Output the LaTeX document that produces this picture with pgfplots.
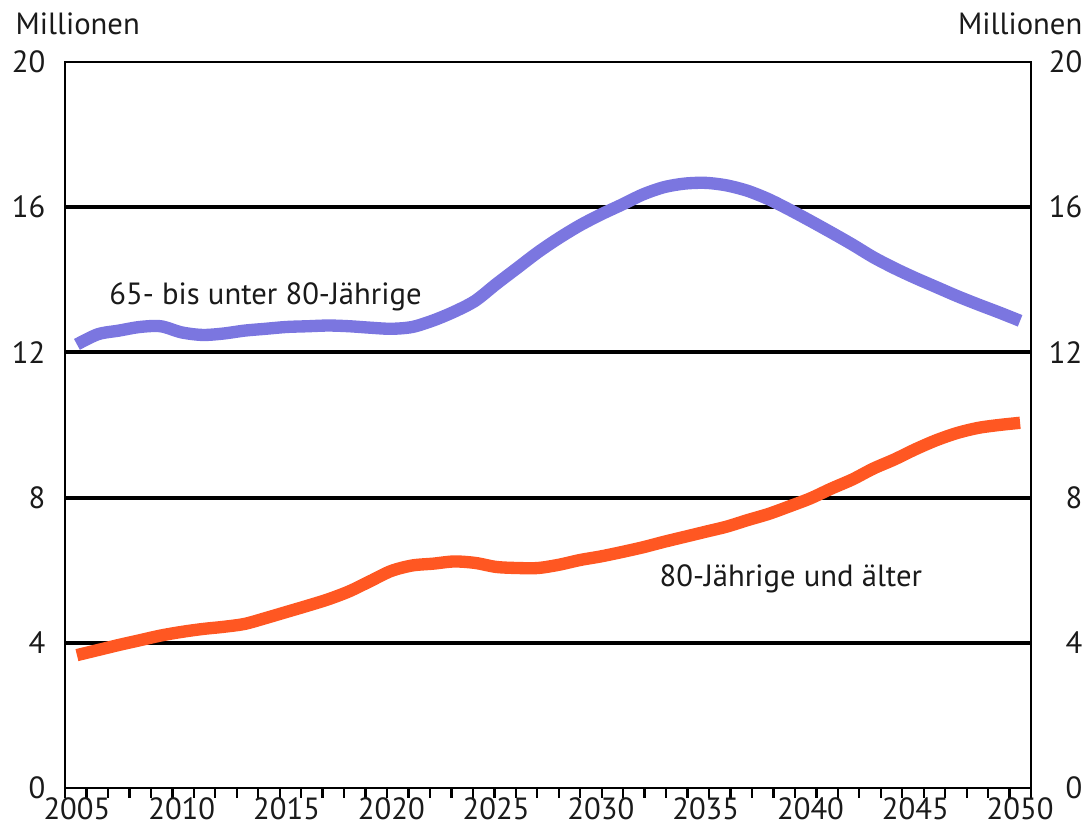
\documentclass[border=0pt]{standalone}
\usepackage{fontspec}
\setmainfont{PT Sans}
\usepackage{pgfplots}
\pgfplotsset{compat=1.18}
\definecolor{blueline}{RGB}{123,118,224}
\definecolor{orangeline}{RGB}{255,87,34}
\definecolor{txt}{RGB}{26,26,26}
\begin{document}
\fontsize{9.2}{11}\selectfont
\begin{tikzpicture}
\begin{axis}[name=ax, scale only axis, width=289.8pt, height=217.8pt,
  xmin=2004.43, xmax=2050.52, ymin=0, ymax=20,
  xtick={2005,2010,...,2050},
  minor xtick={2004.43,2005.45422,...,2050.53},
  ytick={0,4,...,20},
  major tick length=0pt, minor tick length=3pt, tick align=outside, tick pos=left,
  minor tick style={line width=0.7pt, black},
  axis line style={line width=0.7pt},
  extra y ticks={4,8,12,16}, extra y tick labels={}, extra y tick style={grid=major},
  grid style={black, line width=1.2pt},
  /pgf/number format/assume math mode=true,
  /pgf/number format/1000 sep={},
  xticklabel style={inner sep=0pt, yshift=-2.7pt, anchor=north, text=txt},
  yticklabel style={inner sep=0pt, anchor=east, xshift=-5.7pt, text=txt},
  clip=false]
\addplot[blueline, line width=3.7pt, line cap=butt, line join=round, smooth, tension=0.5] coordinates {
(2005,12.22)(2006,12.5)(2007,12.6)(2008,12.7)(2009,12.72)(2010,12.55)(2011,12.48)(2012,12.52)(2013,12.6)(2014,12.65)(2015,12.7)(2016,12.72)(2017,12.74)(2018,12.72)(2019,12.68)(2020,12.65)(2021,12.7)(2022,12.88)(2023,13.12)(2024,13.42)(2025,13.88)(2026,14.32)(2027,14.76)(2028,15.15)(2029,15.5)(2030,15.8)(2031,16.07)(2032,16.35)(2033,16.55)(2034,16.65)(2035,16.67)(2036,16.6)(2037,16.45)(2038,16.22)(2039,15.93)(2040,15.62)(2041,15.3)(2042,14.97)(2043,14.62)(2044,14.32)(2045,14.05)(2046,13.8)(2047,13.55)(2048,13.32)(2049,13.1)(2050,12.87)};
\addplot[orangeline, line width=3.7pt, line cap=butt, line join=round, smooth, tension=0.5] coordinates {
(2005,3.66)(2006,3.8)(2007,3.94)(2008,4.07)(2009,4.2)(2010,4.3)(2011,4.38)(2012,4.44)(2013,4.52)(2014,4.68)(2015,4.85)(2016,5.02)(2017,5.2)(2018,5.42)(2019,5.7)(2020,5.98)(2021,6.13)(2022,6.18)(2023,6.24)(2024,6.2)(2025,6.09)(2026,6.06)(2027,6.06)(2028,6.15)(2029,6.28)(2030,6.38)(2031,6.5)(2032,6.63)(2033,6.78)(2034,6.92)(2035,7.06)(2036,7.2)(2037,7.38)(2038,7.55)(2039,7.76)(2040,7.98)(2041,8.25)(2042,8.5)(2043,8.8)(2044,9.05)(2045,9.33)(2046,9.58)(2047,9.78)(2048,9.92)(2049,10.0)(2050,10.06)};
\node[anchor=base, inner sep=0pt, text=txt] at (axis cs:2014,13.31) {65- bis unter 80-Jährige};
\node[anchor=base, inner sep=0pt, text=txt] at (axis cs:2039.06,5.55) {80-Jährige und älter};
\end{axis}
\begin{axis}[scale only axis, width=289.8pt, height=217.8pt,
  xmin=2004.43, xmax=2050.52, ymin=0, ymax=20,
  hide x axis, axis y line*=right, y axis line style={draw=none},
  ytick={0,4,...,20}, major tick length=0pt,
  /pgf/number format/assume math mode=true,
  yticklabel style={inner sep=0pt, anchor=east, xshift=15.6pt, text=txt}]
\end{axis}
\node[anchor=base west, inner sep=0pt, text=txt] at ([xshift=-15pt, yshift=8.1pt]ax.north west) {Millionen};
\node[anchor=base east, inner sep=0pt, text=txt] at ([xshift=15.6pt, yshift=8.1pt]ax.north east) {Millionen};
\pgfresetboundingbox
\path ([shift={(-19.5pt,-11.7pt)}]ax.south west) rectangle ([shift={(17.7pt,18.6pt)}]ax.north east);
\end{tikzpicture}
\end{document}
